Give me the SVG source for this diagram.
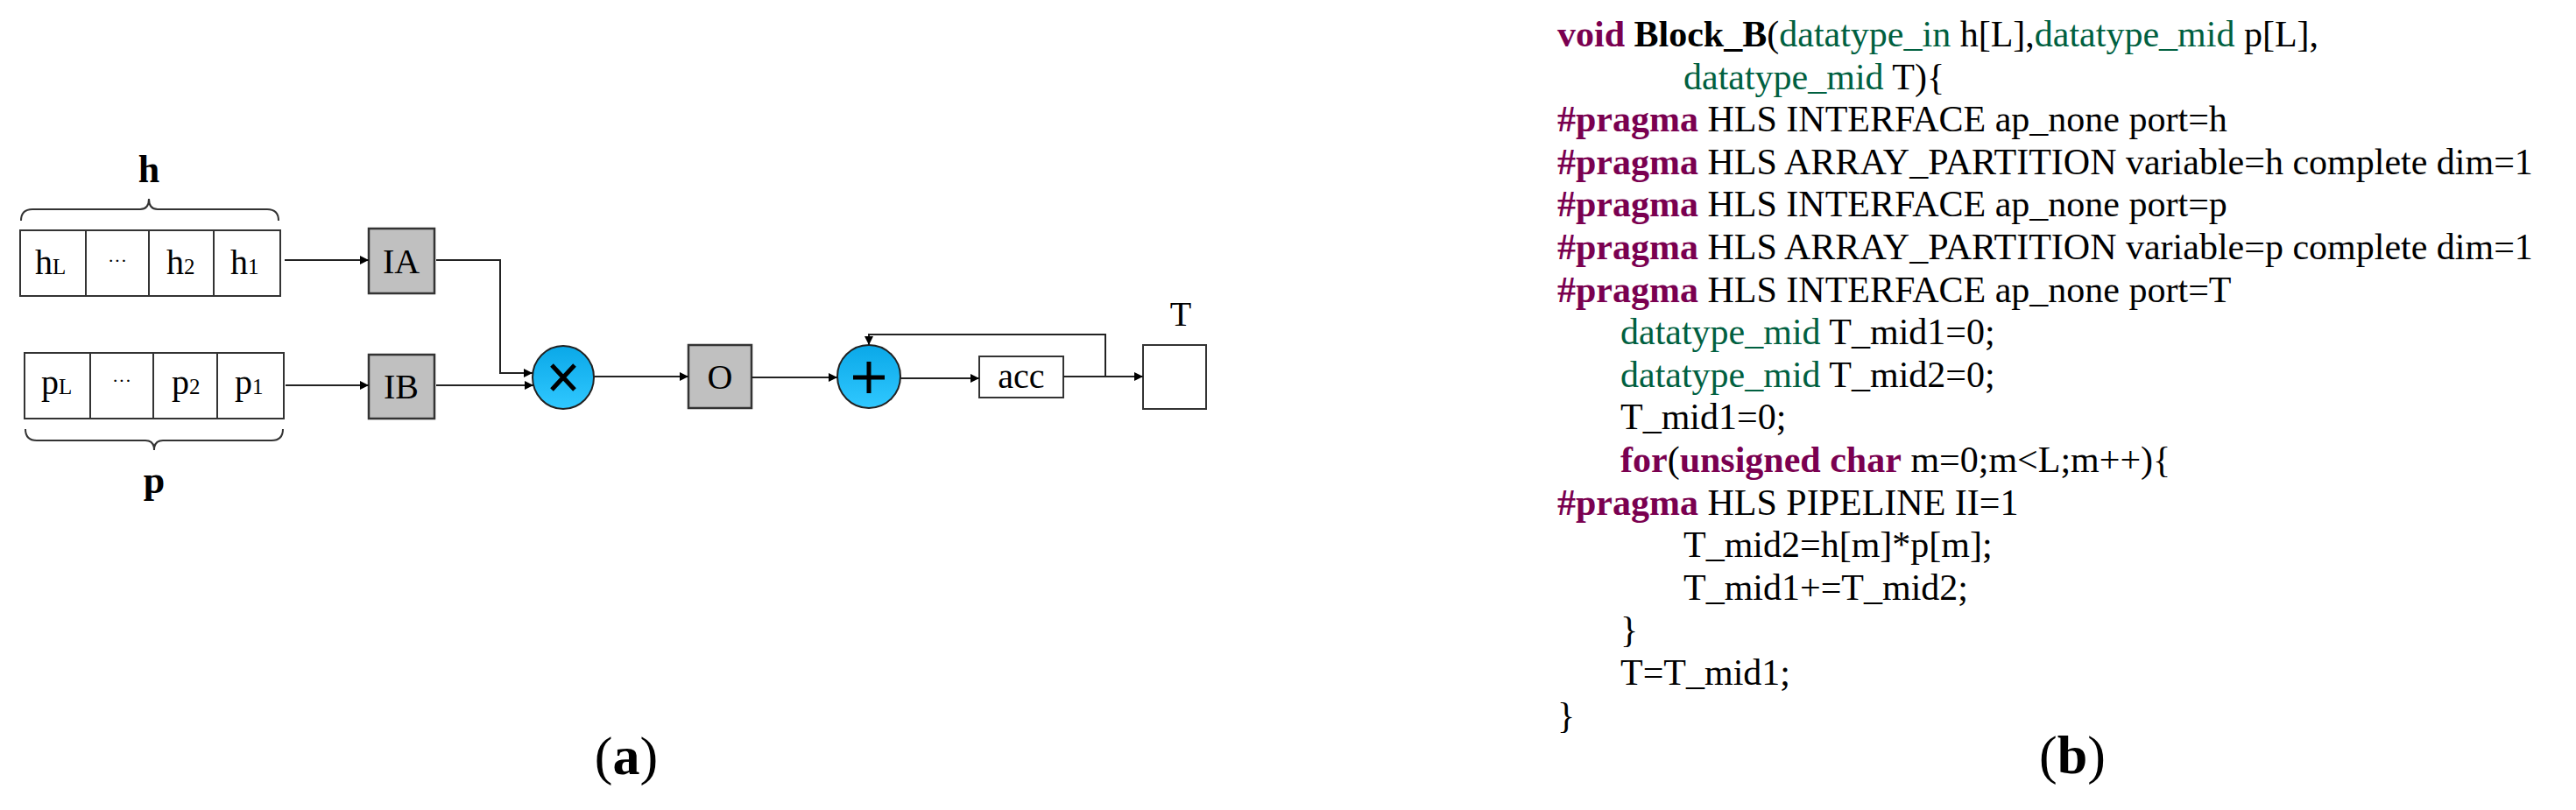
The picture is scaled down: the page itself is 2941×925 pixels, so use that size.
<svg xmlns="http://www.w3.org/2000/svg" width="2941" height="925" viewBox="0 0 2941 925">
<style>
.ser{font-family:"Liberation Serif","DejaVu Serif",serif;fill:#000}
.box{fill:#fff;stroke:#333;stroke-width:2}
.gbox{fill:#c0c0c0;stroke:#333;stroke-width:2.5}
.op{fill:url(#blue);stroke:#222;stroke-width:2}
.sym{stroke:#000;stroke-width:5;fill:none}
.con{fill:none;stroke:#222;stroke-width:2}
.br{fill:none;stroke:#333;stroke-width:2}
.code{font-family:"Liberation Serif","DejaVu Serif",serif;font-size:42px;fill:#000}
.k{fill:#7a0050;font-weight:bold}
.t{fill:#006040}
.b{font-weight:bold}
.lbl{font-size:40px}
.sub{font-size:25px}
</style>
<defs>
<linearGradient id="blue" x1="0" y1="0" x2="0" y2="1"><stop offset="0" stop-color="#0aa8e8"/><stop offset="1" stop-color="#30c8ff"/></linearGradient>
<marker id="ar" viewBox="0 0 10 10" refX="10" refY="5" markerWidth="14" markerHeight="10" markerUnits="userSpaceOnUse" orient="auto"><path d="M0,0L10,5L0,10z" fill="#000"/></marker>
</defs>

<g id="h-array">
<rect class="box" x="23" y="263" width="297" height="75"/>
<line class="br" x1="98" y1="263" x2="98" y2="338"/><line class="br" x1="170" y1="263" x2="170" y2="338"/><line class="br" x1="244" y1="263" x2="244" y2="338"/>
<text class="ser lbl" x="40" y="313">h<tspan class="sub">L</tspan></text>
<text class="ser" x="134" y="305" font-size="22" text-anchor="middle">···</text>
<text class="ser lbl" x="190" y="313">h<tspan class="sub">2</tspan></text>
<text class="ser lbl" x="263" y="313">h<tspan class="sub">1</tspan></text>
<path class="br" d="M24,252 Q24,239 37,239 L160,239 Q170,239 170,227 Q170,239 180,239 L305,239 Q318,239 318,252"/>
<text class="ser b" x="170" y="208" font-size="44" text-anchor="middle">h</text>
</g>
<g id="p-array">
<rect class="box" x="28" y="403" width="296" height="75"/>
<line class="br" x1="103" y1="403" x2="103" y2="478"/><line class="br" x1="175" y1="403" x2="175" y2="478"/><line class="br" x1="248" y1="403" x2="248" y2="478"/>
<text class="ser lbl" x="47" y="450">p<tspan class="sub">L</tspan></text>
<text class="ser" x="139" y="442" font-size="22" text-anchor="middle">···</text>
<text class="ser lbl" x="196" y="450">p<tspan class="sub">2</tspan></text>
<text class="ser lbl" x="268" y="450">p<tspan class="sub">1</tspan></text>
<path class="br" d="M29,490 Q29,503 42,503 L166,503 Q176,503 176,514 Q176,503 186,503 L310,503 Q323,503 323,490"/>
<text class="ser b" x="176" y="563" font-size="44" text-anchor="middle">p</text>
</g>
<g id="IA"><rect class="gbox" x="421" y="261" width="75" height="74"/><text class="ser lbl" x="458" y="312" text-anchor="middle">IA</text></g>
<g id="IB"><rect class="gbox" x="421" y="405" width="75" height="73"/><text class="ser lbl" x="458" y="455" text-anchor="middle">IB</text></g>
<g id="mul"><ellipse class="op" cx="643" cy="431" rx="35" ry="36"/><path class="sym" d="M630,417L656,445M656,417L630,445"/></g>
<g id="O"><rect class="gbox" x="786" y="394" width="72" height="72"/><text class="ser lbl" x="822" y="444" text-anchor="middle">O</text></g>
<g id="add"><ellipse class="op" cx="992" cy="430" rx="36" ry="36"/><path class="sym" d="M992,413V449M974,431H1010"/></g>
<g id="acc"><rect class="box" x="1118" y="407" width="96" height="47"/><text class="ser lbl" x="1166" y="443" text-anchor="middle">acc</text></g>
<g id="T"><rect class="box" x="1305" y="394" width="72" height="73"/><text class="ser lbl" x="1348" y="372" text-anchor="middle">T</text></g>

<g id="connectors">
<path class="con" d="M325,297H421" marker-end="url(#ar)"/>
<path class="con" d="M326,440H421" marker-end="url(#ar)"/>
<path class="con" d="M498,297H571V426H608" marker-end="url(#ar)"/>
<path class="con" d="M498,440H609" marker-end="url(#ar)"/>
<path class="con" d="M678,430H786" marker-end="url(#ar)"/>
<path class="con" d="M858,431H956" marker-end="url(#ar)"/>
<path class="con" d="M1028,432H1118" marker-end="url(#ar)"/>
<path class="con" d="M1214,430H1305" marker-end="url(#ar)"/>
<path class="con" d="M1262,430V382H992V394" marker-end="url(#ar)"/>
</g>

<text class="ser" x="715" y="884" font-size="62" text-anchor="middle">(<tspan font-weight="bold">a</tspan>)</text>

<g id="code" class="code">
<text x="1778" y="53"><tspan class="k">void</tspan> <tspan class="b">Block_B</tspan>(<tspan class="t">datatype_in</tspan> h[L],<tspan class="t">datatype_mid</tspan> p[L],</text>
<text x="1922" y="102"><tspan class="t">datatype_mid</tspan> T){</text>
<text x="1778" y="150"><tspan class="k">#pragma</tspan> HLS INTERFACE ap_none port=h</text>
<text x="1778" y="199"><tspan class="k">#pragma</tspan> HLS ARRAY_PARTITION variable=h complete dim=1</text>
<text x="1778" y="247"><tspan class="k">#pragma</tspan> HLS INTERFACE ap_none port=p</text>
<text x="1778" y="296"><tspan class="k">#pragma</tspan> HLS ARRAY_PARTITION variable=p complete dim=1</text>
<text x="1778" y="345"><tspan class="k">#pragma</tspan> HLS INTERFACE ap_none port=T</text>
<text x="1850" y="393"><tspan class="t">datatype_mid</tspan> T_mid1=0;</text>
<text x="1850" y="442"><tspan class="t">datatype_mid</tspan> T_mid2=0;</text>
<text x="1850" y="490">T_mid1=0;</text>
<text x="1850" y="539"><tspan class="k">for</tspan>(<tspan class="k">unsigned char</tspan> m=0;m&lt;L;m++){</text>
<text x="1778" y="588"><tspan class="k">#pragma</tspan> HLS PIPELINE II=1</text>
<text x="1922" y="636">T_mid2=h[m]*p[m];</text>
<text x="1922" y="685">T_mid1+=T_mid2;</text>
<text x="1850" y="733">}</text>
<text x="1850" y="782">T=T_mid1;</text>
<text x="1778" y="831">}</text>
</g>
<text class="ser" x="2366" y="883" font-size="62" text-anchor="middle">(<tspan font-weight="bold">b</tspan>)</text>
</svg>
